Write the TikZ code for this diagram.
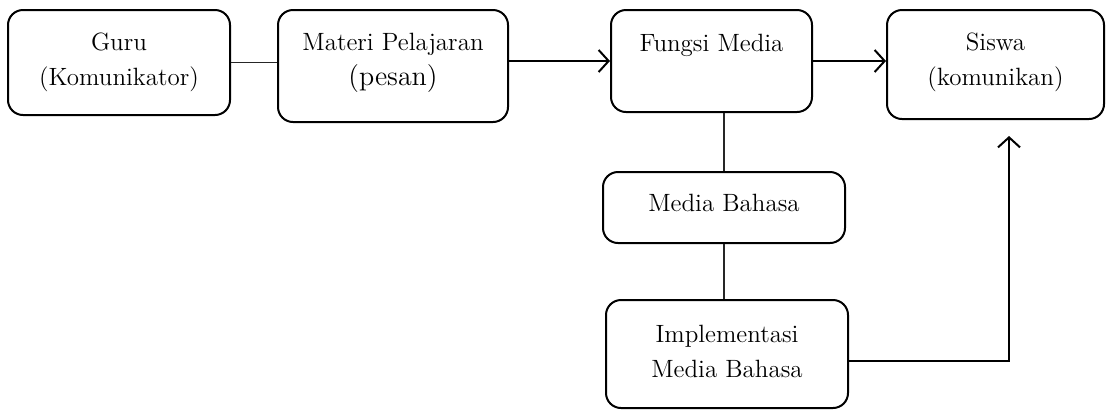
\documentclass[tikz,border=0pt]{standalone}
\usepackage{tikz}
\usetikzlibrary{arrows.meta, calc, positioning}

\tikzset{
    kotak/.style={draw, line width=1pt, rounded corners=7.5pt},
    teks/.style={align=center, font=\fontsize{12.5}{17.5}\selectfont},
    garis/.style={line width=0.6pt, draw=black!85},
    panah/.style={line width=1pt, -{Straight Barb[length=5pt, width=11pt, line width=1pt]}}
}

\begin{document}
\begin{tikzpicture}[x=0.5pt, y=-0.5pt]
    \useasboundingbox (0, 0) rectangle (1106, 409);

    \node[kotak, minimum width=111pt, minimum height=52.5pt] (guru) at (119, 62.5) {};
    \node[kotak, minimum width=115pt, minimum height=56pt] (materi) at (393, 66) {};
    \node[kotak, minimum width=100.5pt, minimum height=51pt] (fungsi) at (711.5, 61) {};
    \node[kotak, minimum width=108.5pt, minimum height=54.5pt] (siswa) at (995.5, 64.5) {};
    \node[kotak, minimum width=121pt, minimum height=35.5pt] (mediab) at (724, 207.5) {};
    \node[kotak, minimum width=121pt, minimum height=54pt] (impl) at (727, 354) {};

    \node[teks] (guru-t) at (119, 62) {Guru\\(Komunikator)};
    \node[teks] (materi-t) at (393, 63) {Materi Pelajaran\\{\fontsize{14}{17.5}\selectfont(pesan)}};
    \node[teks] (fungsi-t) at (711.5, 45) {Fungsi Media};
    \node[teks] (siswa-t) at (995.5, 62) {Siswa\\(komunikan)};
    \node[teks] (mediab-t) at (724, 203) {Media Bahasa};
    \node[teks] (impl-t) at (727, 351) {Implementasi\\Media Bahasa};

    \coordinate (tip) at (1009, 136);

    \draw[garis] (guru.east) -- (guru.east -| materi.west);
    \draw[panah] (fungsi.west -| materi.east) -- (fungsi.west);
    \draw[panah] (fungsi.east) -- (fungsi.east -| siswa.west);
    \draw[garis] (mediab.north) -- (mediab.north |- fungsi.south);
    \draw[garis] (mediab.south) -- (impl.north -| mediab.south);
    \draw[panah] ([yshift=-3.5pt]impl.east) -| (tip);
\end{tikzpicture}
\end{document}
